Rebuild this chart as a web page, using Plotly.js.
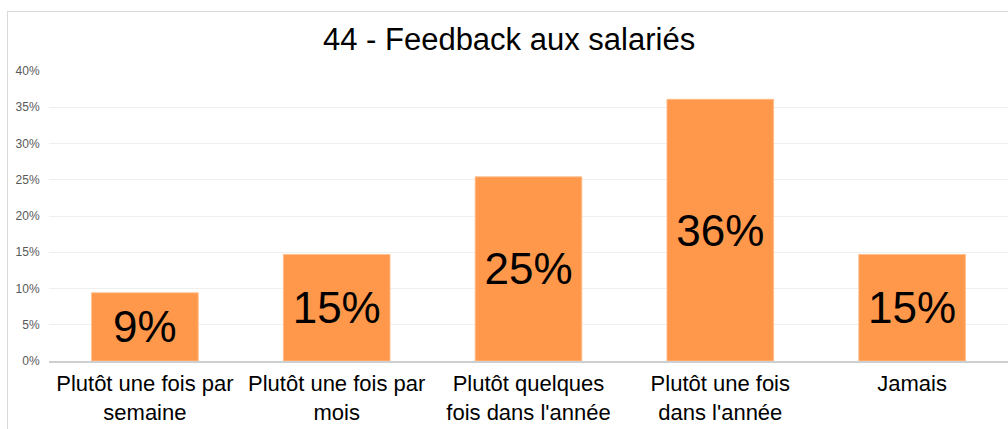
<!DOCTYPE html>
<html>
<head>
<meta charset="utf-8">
<script src="https://cdn.plot.ly/plotly-3.0.1.min.js"></script>
<style>
  html, body { margin: 0; padding: 0; background: #fff; }
  #wrap { position: relative; width: 1008px; height: 429px; overflow: hidden; }
  #chart { width: 1008px; height: 429px; }
  #frame { position: absolute; left: 7px; top: 11px; width: 1020px; height: 440px;
           border: 1px solid #d9d9d9; pointer-events: none; }
</style>
</head>
<body>
<div id="wrap">
  <div id="chart"></div>
  <div id="frame"></div>
</div>
<script>
const categories = [
  "Plutôt une fois par<br>semaine",
  "Plutôt une fois par<br>mois",
  "Plutôt quelques<br>fois dans l'année",
  "Plutôt une fois<br>dans l'année",
  "Jamais"
];
const values = [0.094, 0.147, 0.254, 0.361, 0.147];
const yTickVals = [0, 0.05, 0.10, 0.15, 0.20, 0.25, 0.30, 0.35, 0.40];
const titleText = "44 - Feedback aux salariés";

const trace = {
  type: "bar",
  x: categories,
  y: values,
  marker: { color: "rgb(255,152,75)", line: { color: "rgba(255,190,140,0.9)", width: 1 } },
  texttemplate: "%{y:.0%}",
  textposition: "inside",
  insidetextanchor: "middle",
  textangle: 0,
  textfont: { family: "Liberation Sans, Arial, sans-serif", size: 44, color: "#000" },
  constraintext: "none",
  hoverinfo: "none"
};

const layout = {
  width: 1008, height: 429,
  margin: { l: 49, r: 0, t: 71, b: 68 },
  paper_bgcolor: "#fff",
  plot_bgcolor: "#fff",
  bargap: 0.444,
  showlegend: false,
  font: { family: "Liberation Sans, Arial, sans-serif" },
  title: {
    text: titleText,
    font: { family: "Liberation Sans, Arial, sans-serif", size: 31, color: "#000" },
    x: 0.505, xanchor: "center",
    y: 1 - 39 / 429, yref: "container", yanchor: "middle"
  },
  xaxis: {
    type: "category",
    tickfont: { size: 22, color: "#000" },
    showgrid: false,
    showline: true, linecolor: "#cfcfcf", linewidth: 2,
    ticks: "outside", ticklen: 2, tickcolor: "rgba(0,0,0,0)",
    zeroline: false
  },
  yaxis: {
    range: [0, 0.40],
    tickvals: yTickVals,
    tickformat: ".0%",
    tickfont: { size: 12, color: "#595959" },
    showgrid: true, gridcolor: "#efefef", gridwidth: 1,
    zeroline: false, showline: false,
    ticks: "outside", ticklen: 6, tickcolor: "rgba(0,0,0,0)",
    fixedrange: true
  }
};

Plotly.newPlot("chart", [trace], layout, { staticPlot: true, displayModeBar: false });
</script>
</body>
</html>
